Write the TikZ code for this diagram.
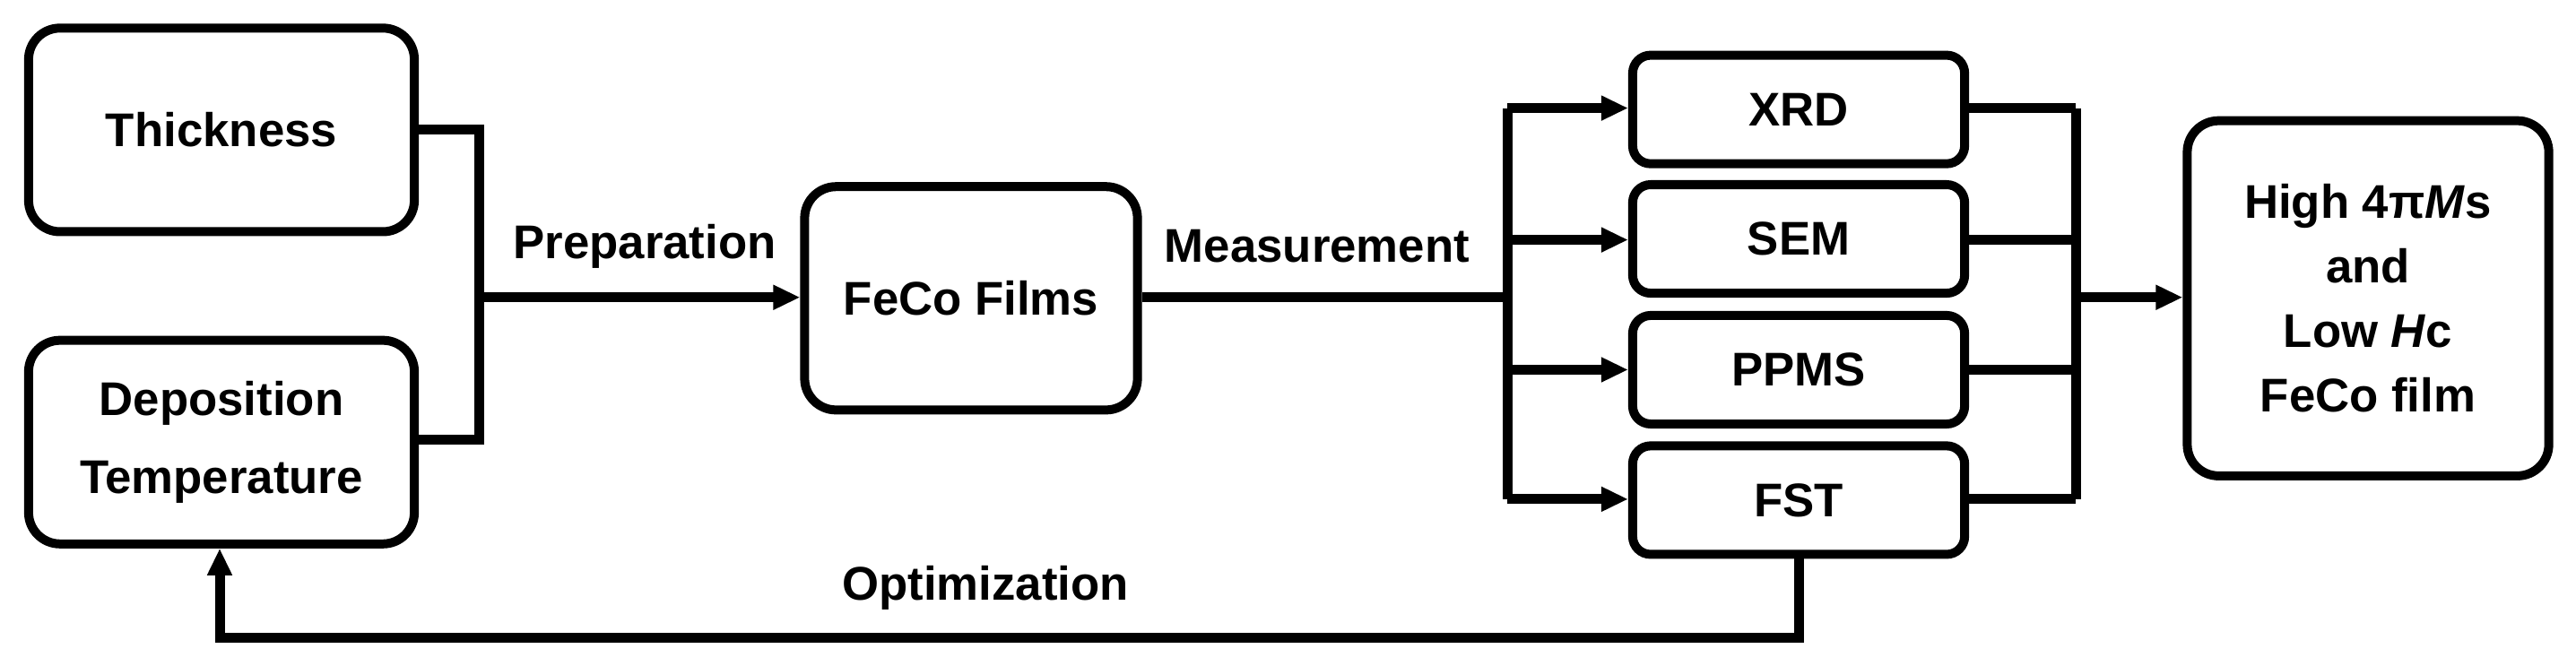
\documentclass[tikz,border=0pt]{standalone}
\usepackage{fontspec}
\setmainfont{Liberation Sans}
\usetikzlibrary{arrows.meta}
\begin{document}
\begin{tikzpicture}[x=0.01cm,y=-0.00517cm,
  box/.style={draw,line width=0.1cm,rounded corners=0.35cm,inner sep=0pt,font=\fontsize{15}{19}\selectfont\bfseries,align=center},
  sbox/.style={box,rounded corners=0.2cm,minimum width=3.7cm,minimum height=1.21cm},
  ln/.style={line width=0.11cm},
  ar/.style={ln,-{Triangle[length=0.3cm,width=0.26cm]}},
  lbl/.style={font=\fontsize{15}{19}\selectfont\bfseries,inner sep=0pt}]
\useasboundingbox (0,0) rectangle (2873,1435);
\node[box,minimum width=4.3cm,minimum height=2.27cm] (thk) at (247,280) {Thickness};
\node[box,minimum width=4.3cm,minimum height=2.27cm] (dep) at (247,953) {Deposition\\[0.2cm]Temperature};
\node[box,minimum width=3.71cm,minimum height=2.49cm] (fec) at (1083,643) {FeCo Films};
\node[sbox] (xrd) at (2006,236) {XRD};
\node[sbox] (sem) at (2006,515) {SEM};
\node[sbox] (ppm) at (2006,797) {PPMS};
\node[sbox] (fst) at (2006,1078) {FST};
\node[box,minimum width=4.03cm,minimum height=3.96cm] (out) at (2641,643) {High 4π\textit{M}s\\[0.05cm]and\\[0.05cm]Low \textit{H}c\\[0.05cm]FeCo film};
\node[lbl] (prep) at (719,531) {Preparation};
\node[lbl] (meas) at (1469,531) {Measurement};
\node[lbl] (opt) at (1099,1268) {Optimization};
\coordinate (j1) at (534,641);
\coordinate (j2) at (1681,641);
\coordinate (j3) at (2315,641);
\draw[ln] (thk.east |- 0,279) -| (j1) |- (dep.east |- 0,948);
\draw[ar] (j1) -- (fec.west |- j1);
\draw[ln] (fec.east |- j2) -- (j2);
\draw[ln] (j2 |- 0,233) -- (j2 |- 0,1076);
\foreach \b/\y in {xrd/233,sem/517,ppm/797,fst/1076}{
  \draw[ar] (j2 |- 0,\y) -- (\b.west |- 0,\y);
  \draw[ln] (\b.east |- 0,\y) -- (j3 |- 0,\y);
}
\draw[ln] (j3 |- 0,233) -- (j3 |- 0,1076);
\draw[ar] (j3) -- (out.west |- j3);
\draw[ar] (fst.south) |- (245,1374) -- (dep.south -| 245,0);
\end{tikzpicture}
\end{document}
